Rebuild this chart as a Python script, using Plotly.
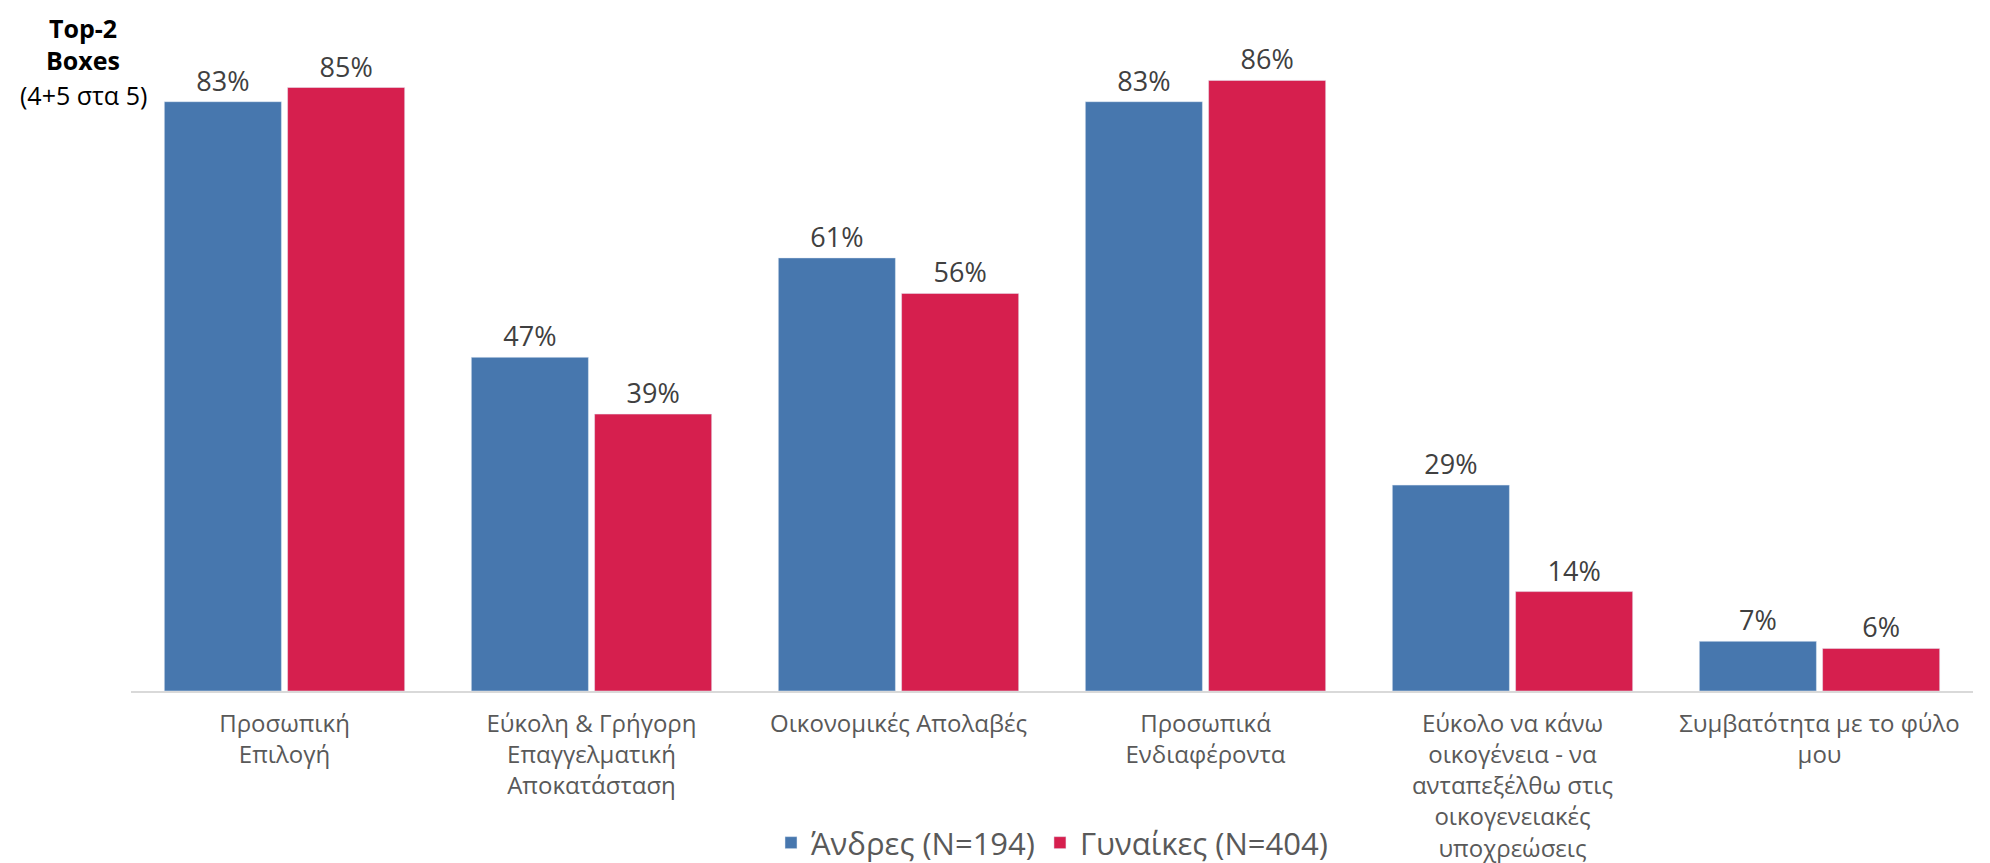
import plotly.graph_objects as go

categories = [
    "Προσωπική<br>Επιλογή",
    "Εύκολη & Γρήγορη<br>Επαγγελματική<br>Αποκατάσταση",
    "Οικονομικές Απολαβές",
    "Προσωπικά<br>Ενδιαφέροντα",
    "Εύκολο να κάνω<br>οικογένεια - να<br>ανταπεξέλθω στις<br>οικογενειακές<br>υποχρεώσεις",
    "Συμβατότητα με το φύλο<br>μου",
]
men_name = "Άνδρες (N=194)"
women_name = "Γυναίκες (N=404)"
men = [83, 47, 61, 83, 29, 7]
women = [85, 39, 56, 86, 14, 6]

FONT = "Open Sans"
W, H = 1990, 863
OFF = 8  # default page body margin
L, R, T, B = 131 - OFF, 25, 10 - OFF, H - (691 - OFF)
ph = H - T - B

fig = go.Figure()
fig.add_trace(go.Bar(
    x=categories, y=men, name=men_name,
    marker=dict(color="#4777AE"),
    text=[f"{v}%" for v in men], textposition="outside",
    textfont=dict(size=27, color="#404040", family=FONT),
    cliponaxis=False,
))
fig.add_trace(go.Bar(
    x=categories, y=women, name=women_name,
    marker=dict(color="#D61F4E"),
    text=[f"{v}%" for v in women], textposition="outside",
    textfont=dict(size=27, color="#404040", family=FONT),
    cliponaxis=False,
))

def ypaper(px):
    return (H - B - (px - OFF)) / ph

def xpaper(px):
    return ((px - OFF) - L) / (W - L - R)

anns = [
    dict(text="<b>Top-2</b>", x=xpaper(83), y=ypaper(28)),
    dict(text="<b>Boxes</b>", x=xpaper(83), y=ypaper(60)),
    dict(text="(4+5 στα 5)", x=xpaper(83), y=ypaper(95)),
]
for a in anns:
    fig.add_annotation(text=a["text"], x=a["x"], y=a["y"], xref="paper", yref="paper",
                       xanchor="center", yanchor="middle", showarrow=False, borderpad=0,
                       font=dict(size=25, color="#000000", family=FONT))

fig.update_layout(
    width=W, height=H,
    margin=dict(l=L, r=R, t=T, b=B, autoexpand=False),
    paper_bgcolor="white", plot_bgcolor="white",
    barmode="group", bargap=0.197, bargroupgap=0.05,
    font=dict(family=FONT, color="#595959"),
    legend=dict(orientation="h", x=xpaper(1052), xanchor="center",
                y=ypaper(843), yanchor="middle",
                font=dict(size=31, color="#595959", family=FONT),
                itemwidth=30, traceorder="normal", bgcolor="rgba(0,0,0,0)"),
    showlegend=True,
)
fig.update_xaxes(showline=True, linecolor="#D9D9D9", linewidth=2,
                 tickfont=dict(size=24, color="#595959", family=FONT),
                 ticks="", showgrid=False, ticklabelstandoff=10)
fig.update_yaxes(range=[0, ph / 7.1], visible=False, showgrid=False, zeroline=False)

fig.write_html("out.html")
